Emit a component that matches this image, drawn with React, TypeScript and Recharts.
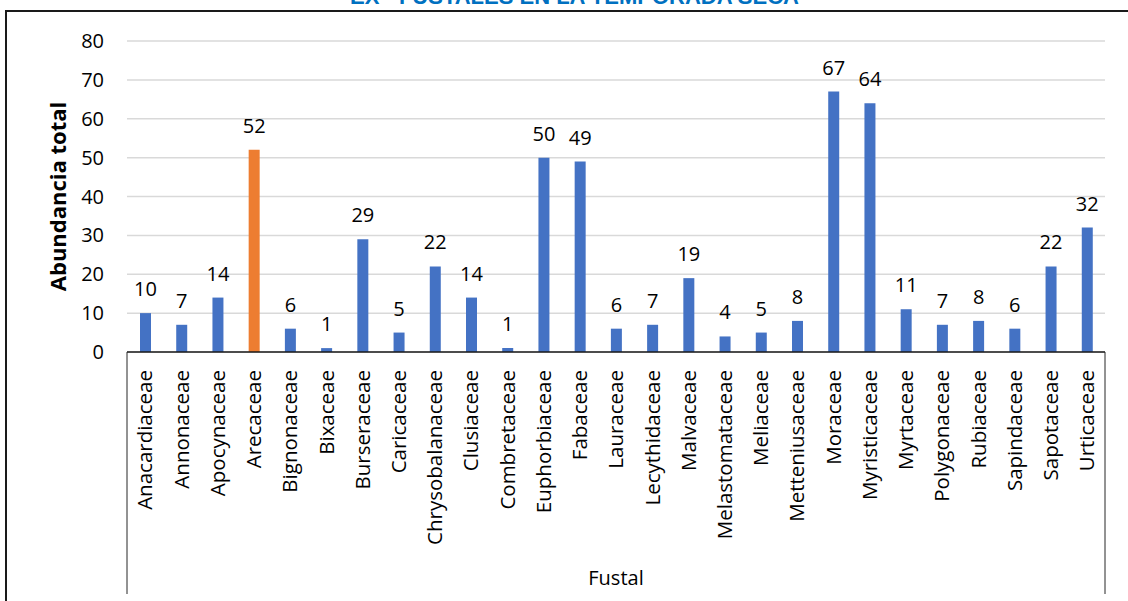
import { BarChart, Bar, XAxis, YAxis, CartesianGrid, Cell, LabelList } from 'recharts';

const families = [
  'Anacardiaceae', 'Annonaceae', 'Apocynaceae', 'Arecaceae', 'Bignonaceae', 'Bixaceae',
  'Burseraceae', 'Caricaceae', 'Chrysobalanaceae', 'Clusiaceae', 'Combretaceae',
  'Euphorbiaceae', 'Fabaceae', 'Lauraceae', 'Lecythidaceae', 'Malvaceae',
  'Melastomataceae', 'Meliaceae', 'Metteniusaceae', 'Moraceae', 'Myristicaceae',
  'Myrtaceae', 'Polygonaceae', 'Rubiaceae', 'Sapindaceae', 'Sapotaceae', 'Urticaceae',
];
const abundance = [10, 7, 14, 52, 6, 1, 29, 5, 22, 14, 1, 50, 49, 6, 7, 19, 4, 5, 8, 67, 64, 11, 7, 8, 6, 22, 32];
const highlighted = 'Arecaceae';
const yTicks = [0, 10, 20, 30, 40, 50, 60, 70, 80];

const data = families.map((name, i) => ({ name, value: abundance[i] }));

const FONT = '"Open Sans", sans-serif';

function FamilyTick({ x, y, payload }: any) {
  return (
    <text
      x={x}
      y={y}
      transform={`rotate(-90 ${x} ${y})`}
      textAnchor='end'
      dy='0.36em'
      fontFamily={FONT}
      fontSize={20.5}
      fill='#000'
    >
      {payload.value}
    </text>
  );
}

function CategoryBox({ viewBox }: any) {
  const { x, y, width } = viewBox;
  return (
    <g>
      <line x1={x} y1={y} x2={x} y2={y + 242} stroke='#262626' strokeWidth={1} />
      <line x1={x + width} y1={y} x2={x + width} y2={y + 242} stroke='#262626' strokeWidth={1} />
      <text x={x + width / 2} y={y + 233} textAnchor='middle' fontFamily={FONT} fontSize={20} fill='#000'>
        Fustal
      </text>
    </g>
  );
}

function ValueTitle({ viewBox }: any) {
  const cx = 58;
  const cy = viewBox.y + viewBox.height / 2;
  return (
    <text
      x={cx}
      y={cy}
      transform={`rotate(-90 ${cx} ${cy})`}
      textAnchor='middle'
      dy='0.36em'
      fontFamily={FONT}
      fontWeight={700}
      fontSize={22}
      fill='#000'
    >
      Abundancia total
    </text>
  );
}

export default function App() {
  return (
    <div
      style={{
        position: 'absolute',
        left: 0,
        top: 0,
        width: 1128,
        height: 601,
        overflow: 'hidden',
        background: '#fff',
      }}
    >
      {/* title, mostly cut off at the top of the picture */}
      <div
        style={{
          position: 'absolute',
          left: 350,
          top: -14,
          whiteSpace: 'nowrap',
          fontFamily: '"Liberation Sans", Arial, sans-serif',
          fontWeight: 700,
          fontSize: 22,
          lineHeight: 1,
          color: '#0070C0',
        }}
      >
        EX - FUSTALES EN LA TEMPORADA SECA
      </div>
      {/* outer frame */}
      <div style={{ position: 'absolute', left: 5, top: 10, width: 1123, height: 2, background: '#1a1a1a' }} />
      <div style={{ position: 'absolute', left: 5, top: 10, width: 2, height: 591, background: '#1a1a1a' }} />

      <div style={{ position: 'absolute', left: 0, top: 0 }}>
        <BarChart
          width={1128}
          height={601}
          data={data}
          margin={{ top: 41, right: 23, bottom: 0, left: 0 }}
        >
          <CartesianGrid vertical={false} stroke='#d9d9d9' strokeWidth={1.5} />
          <XAxis
            dataKey='name'
            interval={0}
            height={249}
            tickLine={false}
            tickSize={0}
            tickMargin={18}
            axisLine={{ stroke: '#1a1a1a', strokeWidth: 1.5 }}
            tick={<FamilyTick />}
            label={CategoryBox}
          />
          <YAxis
            width={127}
            domain={[0, 80]}
            ticks={yTicks}
            axisLine={false}
            tickLine={false}
            tickSize={0}
            tickMargin={23}
            tick={{ fontFamily: FONT, fontSize: 20, fill: '#000' }}
            label={ValueTitle}
          />
          <Bar dataKey='value' barSize={11} isAnimationActive={false}>
            {data.map((d) => (
              <Cell key={d.name} fill={d.name === highlighted ? '#ED7D31' : '#4472C4'} />
            ))}
            <LabelList dataKey='value' position='top' offset={17} fontFamily={FONT} fontSize={20} fill='#000' />
          </Bar>
        </BarChart>
      </div>
    </div>
  );
}
